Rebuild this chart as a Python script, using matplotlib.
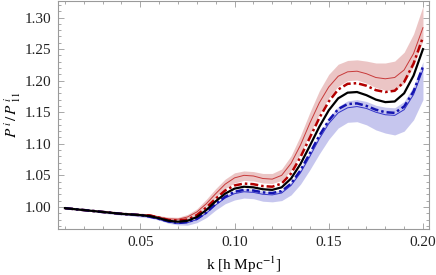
"""P^i / P^i_11 ratio with error bands (Mathematica-style frame plot)"""
import numpy as np
import matplotlib
matplotlib.use('Agg')
import matplotlib.pyplot as plt
from matplotlib.ticker import MultipleLocator, FormatStrFormatter

plt.rcParams['font.family'] = ['Liberation Serif', 'DejaVu Serif']
plt.rcParams['mathtext.fontset'] = 'stix'

# ── data ────────────────────────────────────────────────────────────────
k = [0.010, 0.015, 0.020, 0.025, 0.030, 0.035, 0.040, 0.045, 0.050, 0.055,
     0.060, 0.065, 0.070, 0.075, 0.080, 0.085, 0.090, 0.095, 0.100, 0.105,
     0.110, 0.115, 0.120, 0.125, 0.130, 0.135, 0.140, 0.145, 0.150, 0.155,
     0.160, 0.165, 0.170, 0.175, 0.180, 0.185, 0.190, 0.195, 0.200]

# central curve (black)
ratio = [0.998, 0.9965, 0.995, 0.9935, 0.992, 0.9905, 0.989, 0.988, 0.987, 0.9855,
         0.982, 0.978, 0.9765, 0.978, 0.984, 0.995, 1.009, 1.021, 1.029, 1.032,
         1.031, 1.028, 1.027, 1.031, 1.045, 1.068, 1.097, 1.127, 1.153, 1.172,
         1.181, 1.182, 1.177, 1.170, 1.166, 1.167, 1.180, 1.208, 1.250]

# deviations from the central curve
d_red_thin = [0.000, 0.000, 0.000, 0.000, 0.001, 0.001, 0.001, 0.001, 0.001, 0.002,
              0.002, 0.003, 0.004, 0.006, 0.008, 0.010, 0.012, 0.015, 0.017, 0.018,
              0.018, 0.017, 0.017, 0.019, 0.024, 0.030, 0.036, 0.038, 0.037, 0.035,
              0.033, 0.033, 0.034, 0.035, 0.037, 0.038, 0.037, 0.035, 0.034]
d_red_dash = [0.000, 0.000, 0.000, 0.000, 0.000, 0.000, 0.000, 0.000, 0.000, 0.001,
              0.001, 0.001, 0.002, 0.002, 0.003, 0.004, 0.004, 0.005, 0.005, 0.005,
              0.005, 0.005, 0.005, 0.006, 0.008, 0.011, 0.013, 0.014, 0.014, 0.014,
              0.014, 0.014, 0.015, 0.015, 0.016, 0.017, 0.018, 0.019, 0.019]
d_blue_dash = [0.000, 0.000, 0.000, 0.000, 0.000, 0.000, 0.000, 0.000, 0.000, -0.001,
               -0.001, -0.001, -0.002, -0.002, -0.003, -0.004, -0.004, -0.005, -0.005, -0.005,
               -0.005, -0.005, -0.005, -0.006, -0.008, -0.010, -0.012, -0.014, -0.016, -0.017,
               -0.018, -0.018, -0.017, -0.016, -0.016, -0.018, -0.021, -0.025, -0.028]
d_blue_thin = [0.000, 0.000, 0.000, 0.000, 0.000, 0.000, 0.000, -0.001, -0.001, -0.001,
               -0.002, -0.002, -0.003, -0.003, -0.004, -0.005, -0.006, -0.007, -0.008, -0.008,
               -0.008, -0.008, -0.008, -0.009, -0.011, -0.014, -0.017, -0.019, -0.021, -0.023,
               -0.024, -0.023, -0.021, -0.020, -0.020, -0.022, -0.026, -0.030, -0.033]
d_red_top = [0.001, 0.001, 0.001, 0.001, 0.002, 0.002, 0.002, 0.002, 0.003, 0.003,
             0.004, 0.006, 0.007, 0.010, 0.013, 0.017, 0.020, 0.023, 0.025, 0.025,
             0.025, 0.025, 0.026, 0.029, 0.036, 0.045, 0.053, 0.057, 0.057, 0.054,
             0.051, 0.051, 0.054, 0.058, 0.062, 0.064, 0.065, 0.066, 0.068]
d_red_bot = [-0.001, -0.001, -0.001, -0.001, 0.000, 0.000, 0.000, 0.000, 0.000, 0.001,
             0.001, 0.001, 0.002, 0.003, 0.004, 0.005, 0.006, 0.008, 0.009, 0.010,
             0.010, 0.010, 0.010, 0.011, 0.013, 0.016, 0.019, 0.020, 0.020, 0.019,
             0.019, 0.019, 0.019, 0.019, 0.019, 0.018, 0.016, 0.015, 0.014]
d_blue_top = [0.001, 0.001, 0.001, 0.001, 0.000, 0.000, 0.000, 0.000, 0.000, -0.001,
              -0.001, -0.001, -0.001, -0.001, -0.002, -0.002, -0.003, -0.003, -0.003, -0.003,
              -0.003, -0.003, -0.003, -0.004, -0.005, -0.007, -0.009, -0.011, -0.012, -0.013,
              -0.013, -0.012, -0.010, -0.009, -0.008, -0.010, -0.013, -0.017, -0.020]
d_blue_bot = [-0.001, -0.001, -0.001, -0.001, -0.002, -0.002, -0.002, -0.002, -0.003, -0.003,
              -0.003, -0.004, -0.005, -0.007, -0.009, -0.012, -0.014, -0.016, -0.018, -0.018,
              -0.018, -0.019, -0.019, -0.021, -0.026, -0.032, -0.038, -0.043, -0.046, -0.047,
              -0.047, -0.047, -0.047, -0.048, -0.049, -0.053, -0.060, -0.070, -0.080]

k = np.array(k)
ratio = np.array(ratio)

C_RED = '#b30000'; C_RED_THIN = '#c83a3a'
C_BLUE = '#1414b0'; C_BLUE_THIN = '#3434c8'
C_FRAME = '#9a9a9a'

fig = plt.figure(figsize=(4.36, 2.75), dpi=100)
ax = fig.add_axes([58/436, 46/275, 371/436, 228.5/275])

# bands
ax.fill_between(k, ratio + d_red_bot, ratio + d_red_top, color='#d98c8c', alpha=0.5, lw=0)
ax.fill_between(k, ratio + d_blue_bot, ratio + d_blue_top, color='#8f8fde', alpha=0.5, lw=0)

# lines
dotdash = (0, (3.2, 1.2, 1.0, 1.2))
ax.plot(k, ratio + d_red_thin, color=C_RED_THIN, lw=0.7)
ax.plot(k, ratio + d_blue_thin, color=C_BLUE_THIN, lw=0.7)
ax.plot(k, ratio + d_red_dash, color=C_RED, lw=1.8, ls=dotdash)
ax.plot(k, ratio + d_blue_dash, color=C_BLUE, lw=1.8, ls=dotdash)
ax.plot(k, ratio, color='black', lw=1.6)

ax.set_xlim(0.0063, 0.2032)
ax.set_ylim(0.965, 1.327)

ax.xaxis.set_major_locator(MultipleLocator(0.05))
ax.xaxis.set_minor_locator(MultipleLocator(0.01))
ax.yaxis.set_major_locator(MultipleLocator(0.05))
ax.yaxis.set_minor_locator(MultipleLocator(0.01))
ax.xaxis.set_major_formatter(FormatStrFormatter('%.2f'))
ax.yaxis.set_major_formatter(FormatStrFormatter('%.2f'))

ax.tick_params(which='both', direction='in', top=True, right=True,
               color=C_FRAME, width=0.6, labelsize=11, labelcolor='#222')
ax.tick_params(which='major', length=4, pad=5)
ax.tick_params(which='minor', length=2)
for s in ax.spines.values():
    s.set_color(C_FRAME); s.set_linewidth(0.8)

ax.set_xlabel(r'k [h Mpc$^{-1}$]', fontsize=11, labelpad=4)
ax.set_ylabel(r'$P^{\,i}\,/\,P^{\,i}_{\;11}$', fontsize=11, labelpad=1)

fig.savefig('out.png', dpi=100)
plt.close(fig)
